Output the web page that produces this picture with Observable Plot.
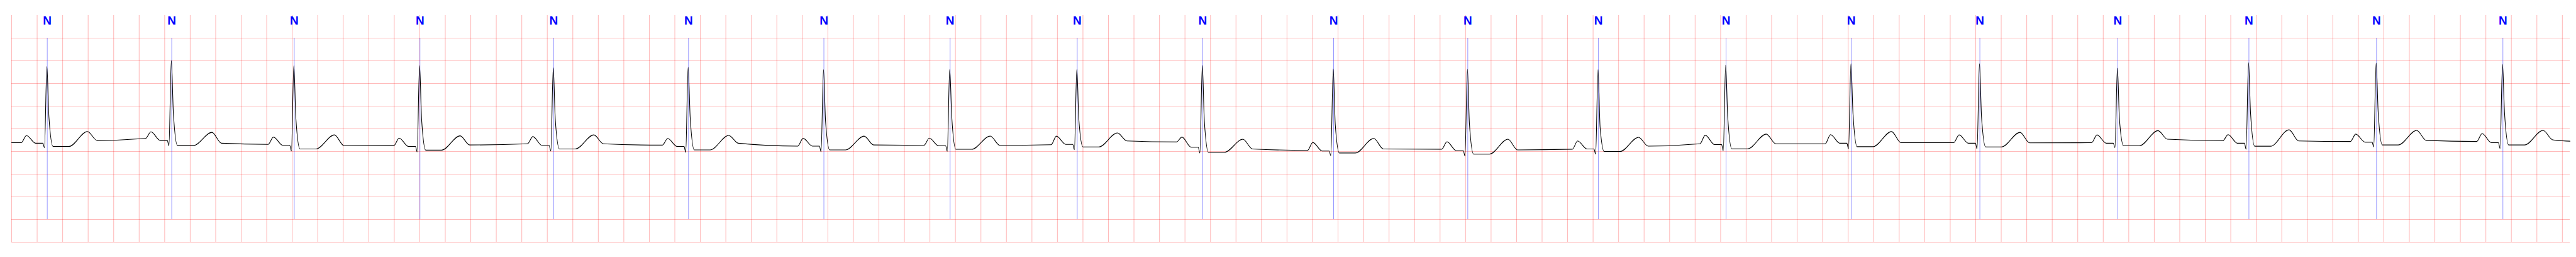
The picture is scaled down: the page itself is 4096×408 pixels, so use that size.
<!DOCTYPE html>
<html>
<head>
<meta charset="utf-8">
<script src="https://cdn.jsdelivr.net/npm/d3@7"></script>
<script src="https://cdn.jsdelivr.net/npm/@observablehq/plot@0.6"></script>
<style>
  html, body { margin: 0; padding: 0; background: #fff; overflow: hidden; }
</style>
</head>
<body>
<div id="chart"></div>
<script>
// ---- Data (time in s, amplitude in mV) ----
const beatTimes = [0.2794, 1.2554, 2.2158, 3.2015, 4.2499, 5.3074, 6.3688, 7.3584, 8.3551, 9.3391,
                   10.3655, 11.4174, 12.4419, 13.4426, 14.4248, 15.4327, 16.5141, 17.5422, 18.5428, 19.5336];
const beatLabels = ["N","N","N","N","N","N","N","N","N","N","N","N","N","N","N","N","N","N","N","N"];

// level of the baseline where each P wave starts
const tpLevel   = [-0.306, -0.212, -0.343, -0.370, -0.330, -0.360, -0.381, -0.364, -0.350, -0.290,
                   -0.475, -0.450, -0.450, -0.330, -0.330, -0.306, -0.306, -0.263, -0.280, -0.280];
const pAmp      = [-0.149, -0.066, -0.182, -0.205, -0.172, -0.212, -0.210, -0.205, -0.162, -0.182,
                   -0.300, -0.285, -0.268, -0.141, -0.129, -0.134, -0.134, -0.129, -0.116, -0.104];
const prLevel   = [-0.318, -0.255, -0.364, -0.389, -0.369, -0.389, -0.381, -0.374, -0.343, -0.407,
                   -0.490, -0.482, -0.444, -0.348, -0.318, -0.318, -0.318, -0.318, -0.293, -0.306];
const qAmp      = [-0.414, -0.376, -0.490, -0.508, -0.490, -0.520, -0.508, -0.495, -0.457, -0.533,
                   -0.591, -0.601, -0.558, -0.482, -0.440, -0.440, -0.414, -0.450, -0.400, -0.432];
const rAmp      = [1.374, 1.505, 1.394, 1.394, 1.346, 1.356, 1.306, 1.311, 1.311, 1.399,
                   1.323, 1.311, 1.306, 1.404, 1.437, 1.437, 1.341, 1.457, 1.449, 1.424];
const kneeAmp   = [0.26, 0.33, 0.22, 0.21, 0.19, 0.25, 0.17, 0.26, 0.19, 0.16,
                   0.09, 0.11, 0.035, 0.26, 0.34, 0.26, 0.21, 0.34, 0.36, 0.34];
const stLevel   = [-0.389, -0.370, -0.445, -0.470, -0.444, -0.465, -0.465, -0.452, -0.400, -0.520,
                   -0.533, -0.558, -0.500, -0.440, -0.394, -0.400, -0.374, -0.384, -0.356, -0.356];
const tAmp      = [-0.058, -0.078, -0.134, -0.154, -0.134, -0.146, -0.162, -0.159, -0.091, -0.230,
                   -0.212, -0.230, -0.187, -0.116, -0.061, -0.078, -0.040, -0.023, -0.035, -0.035];
const tEndLevel = [-0.255, -0.318, -0.369, -0.356, -0.330, -0.318, -0.356, -0.364, -0.268, -0.444,
                   -0.444, -0.465, -0.381, -0.330, -0.306, -0.310, -0.230, -0.268, -0.255, -0.242];

// time of each wave landmark relative to the annotated R beat (s)
const waveOffsets = [-0.205, -0.163, -0.09, -0.035, -0.022, -0.003, 0.013, 0.045, 0.17, 0.315, 0.39];
const traceStart = {t: 0, v: -0.306};
const traceEnd = {t: 20.06, v: -0.273};

// ---- Build the trace table from the arrays above ----
const trace = [traceStart];
beatTimes.forEach((bt, i) => {
  const levels = [tpLevel[i], pAmp[i], prLevel[i], prLevel[i], qAmp[i], rAmp[i],
                  kneeAmp[i], stLevel[i], stLevel[i], tAmp[i], tEndLevel[i]];
  waveOffsets.forEach((o, k) => trace.push({t: bt + o, v: levels[k]}));
});
trace.push(traceEnd);

const gridX = d3.range(0, 101).map(k => +(k * 0.2).toFixed(1));
const gridY = [-2.5, -2, -1.5, -1, -0.5, 0, 0.5, 1, 1.5, 2];
const beats = beatTimes.map((t, i) => ({t, label: beatLabels[i]}));

const chart = Plot.plot({
  width: 4096,
  height: 408,
  marginLeft: 18,
  marginRight: 10,
  marginTop: 24,
  marginBottom: 24,
  x: {domain: [0, 20.06], axis: null},
  y: {domain: [-2.5, 2.5], axis: null},
  style: {background: "#fff"},
  marks: [
    Plot.ruleX(gridX, {stroke: "red", strokeOpacity: 0.27, strokeWidth: 1.1}),
    Plot.ruleY(gridY, {stroke: "red", strokeOpacity: 0.27, strokeWidth: 1.1}),
    Plot.ruleX(beats, {x: "t", y1: -2, y2: 2, stroke: "blue", strokeOpacity: 0.7, strokeWidth: 0.6}),
    Plot.line(trace, {x: "t", y: "v", curve: "monotone-x", stroke: "black", strokeWidth: 1.1}),
    Plot.text(beats, {x: "t", y: 2.39, text: "label", fill: "blue", fontWeight: "bold",
                      fontSize: 19, fontFamily: "Liberation Sans, Arial, sans-serif"})
  ]
});
document.getElementById("chart").appendChild(chart);
</script>
</body>
</html>
